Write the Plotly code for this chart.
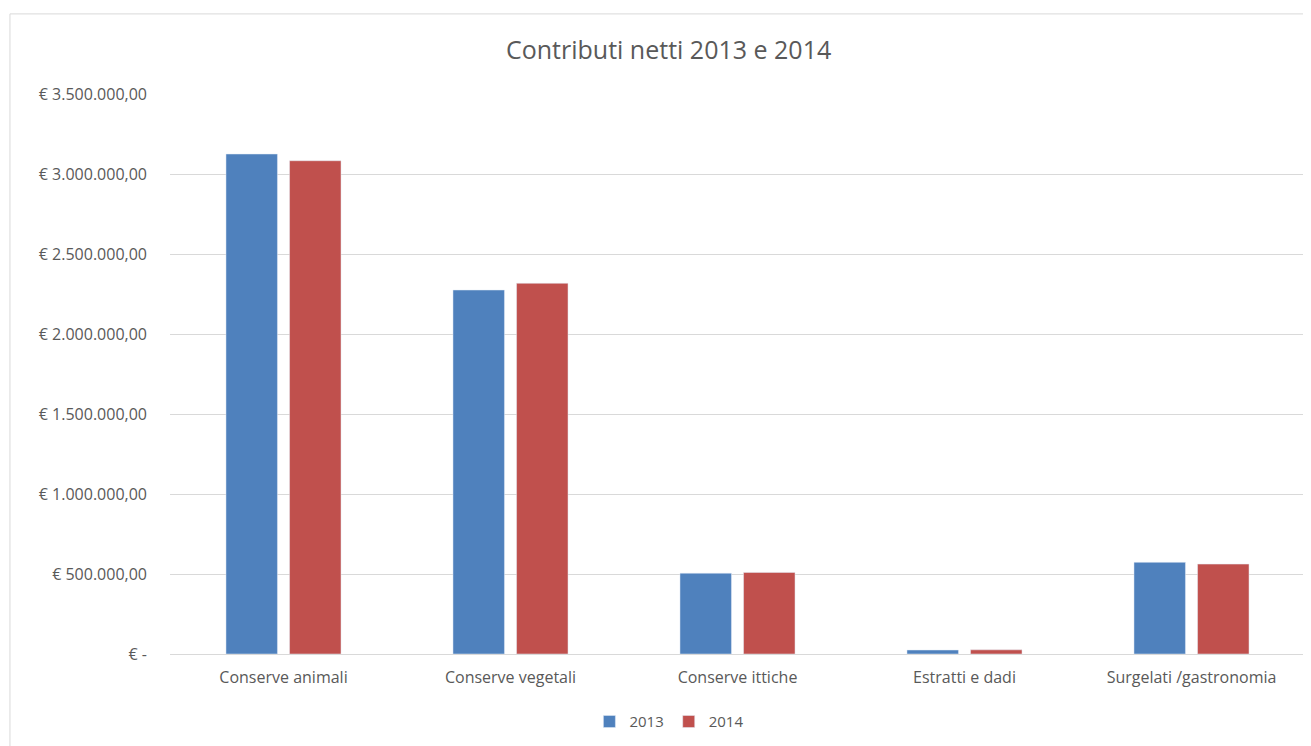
import plotly.graph_objects as go

categories = ["Conserve animali", "Conserve vegetali", "Conserve ittiche", "Estratti e dadi", "Surgelati /gastronomia"]
values_2013 = [3125000, 2275000, 505000, 25000, 573000]
values_2014 = [3083000, 2317000, 510000, 26000, 562000]
tick_vals = [0, 500000, 1000000, 1500000, 2000000, 2500000, 3000000, 3500000]
tick_text = ["€ -", "€ 500.000,00", "€ 1.000.000,00", "€ 1.500.000,00", "€ 2.000.000,00",
             "€ 2.500.000,00", "€ 3.000.000,00", "€ 3.500.000,00"]

font_family = "Open Sans, Liberation Sans, sans-serif"
grey = "#595959"

fig = go.Figure()
fig.add_trace(go.Bar(name="2013", x=categories, y=values_2013, marker_color="#4F81BD"))
fig.add_trace(go.Bar(name="2014", x=categories, y=values_2014, marker_color="#C0504D"))

fig.update_layout(
    width=1303, height=738,
    margin=dict(l=162, r=6, t=86, b=92),
    paper_bgcolor="white", plot_bgcolor="white",
    barmode="group", bargap=0.44, bargroupgap=0.19,
    title=dict(text="Contributi netti 2013 e 2014", x=0.507, xref="container", xanchor="center",
               y=0.943, yref="container", yanchor="middle",
               font=dict(family=font_family, size=25, color=grey)),
    font=dict(family=font_family, size=15, color=grey),
    showlegend=True,
    legend=dict(orientation="h", x=0.44, xanchor="center", y=-0.121, yanchor="middle",
                font=dict(size=15, color=grey), itemwidth=30),
    xaxis=dict(showgrid=False, showline=False, ticks="", ticklabelstandoff=12,
               tickfont=dict(size=16, color=grey)),
    yaxis=dict(range=[0, 3500000], tickvals=tick_vals, ticktext=tick_text,
               showgrid=True, gridcolor="#D9D9D9", gridwidth=1,
               zeroline=True, zerolinecolor="#D9D9D9", zerolinewidth=1,
               ticks="", ticklabelstandoff=22, tickfont=dict(size=16, color=grey)),
    shapes=[dict(type="rect", xref="paper", yref="paper", x0=-0.141, x1=1.02, y0=-0.3, y1=1.143,
                 line=dict(color="#D9D9D9", width=1), fillcolor="rgba(0,0,0,0)", layer="below")],
)

fig.write_html("out.html")
